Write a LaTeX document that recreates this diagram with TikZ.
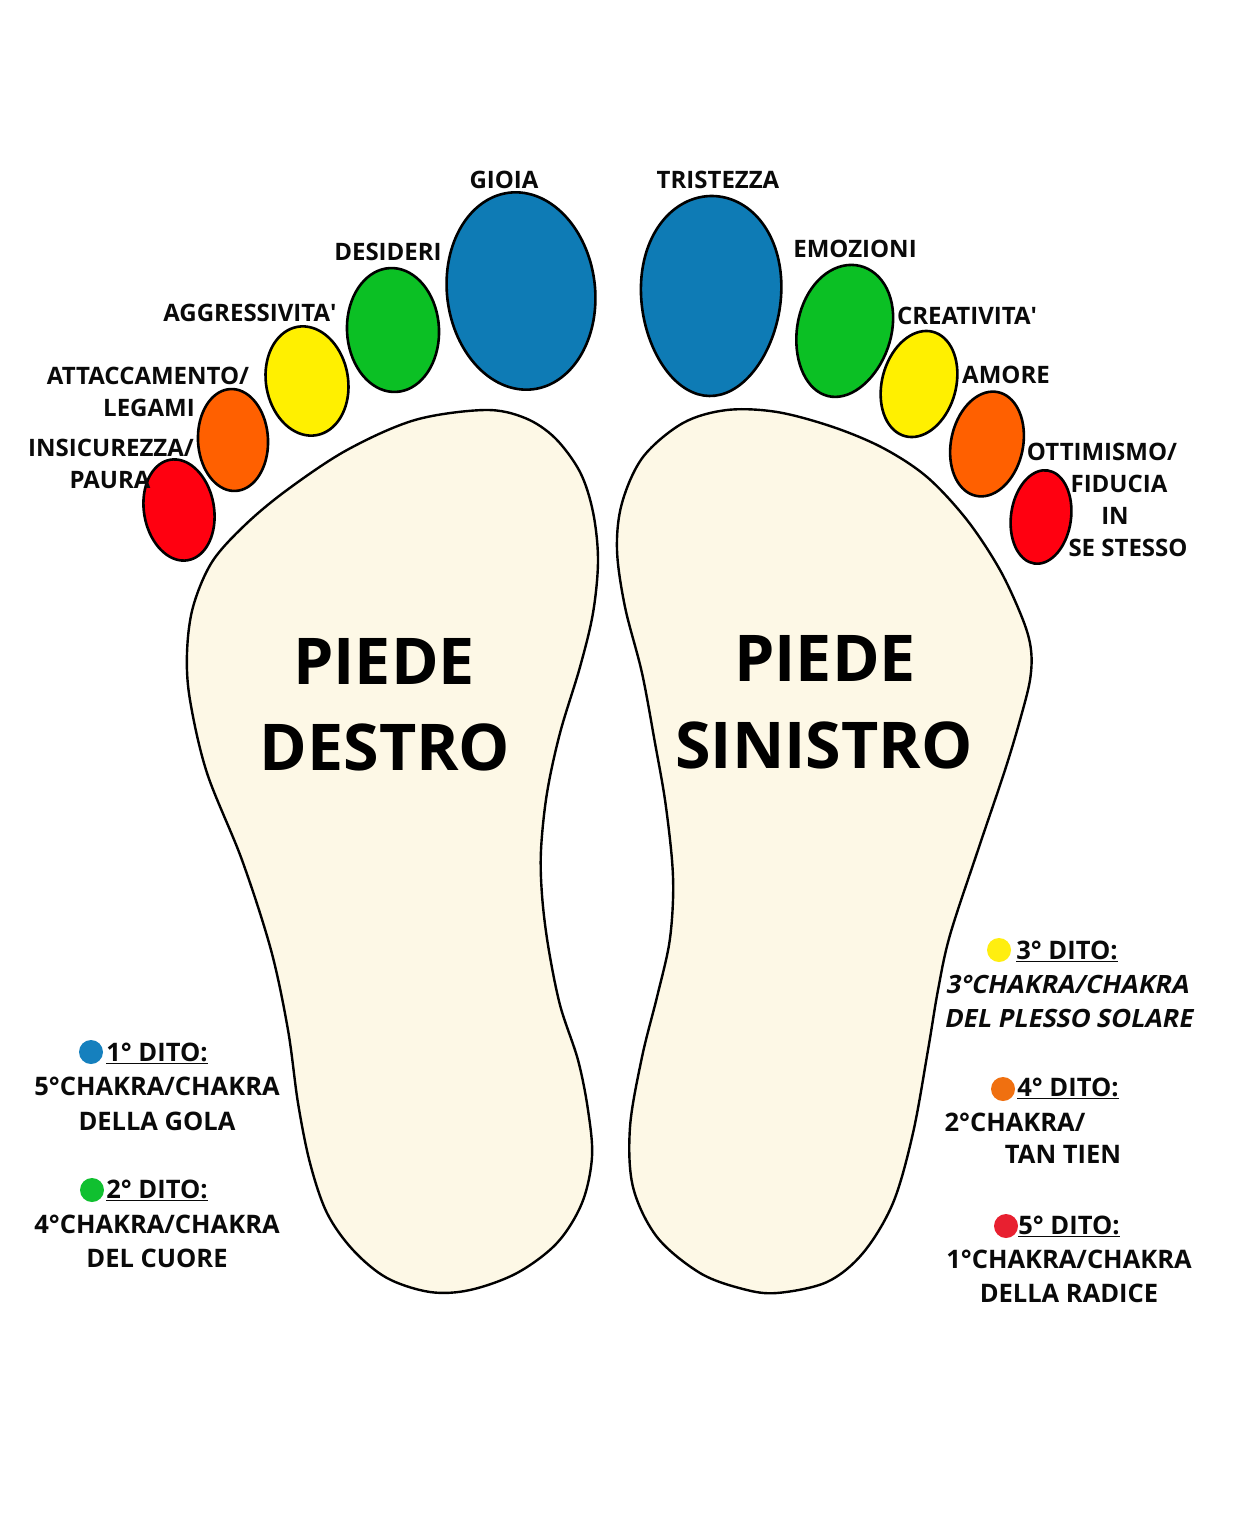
\documentclass[tikz,border=0pt]{standalone}
\usepackage{fontspec}
\setmainfont{Open Sans}
\newfontfamily\plainsans{Open Sans}
\newfontfamily\slantsans[BoldFeatures={FakeSlant=0.2}]{Open Sans}
\definecolor{toeblue}{HTML}{0E7BB5}
\definecolor{toegreen}{HTML}{0BC024}
\definecolor{toeyellow}{HTML}{FFF000}
\definecolor{toeorange}{HTML}{FF6000}
\definecolor{toered}{HTML}{FF0010}
\definecolor{cream}{HTML}{FDF8E6}
\definecolor{dotblue}{HTML}{1580BE}
\definecolor{dotgreen}{HTML}{10C030}
\definecolor{dotyellow}{HTML}{FFEE10}
\definecolor{dotorange}{HTML}{F07010}
\definecolor{dotred}{HTML}{E82030}
\definecolor{ink}{HTML}{0A0A0A}
\newcommand{\apos}{{\plainsans\bfseries\char39}}
% \toeshape{cx}{cy}{rx}{ry}{rotation}{egg}{colour}
\newcommand{\toeshape}[7]{%
 \draw[outline,fill=#7,shift={(#1,#2)},rotate=-#5] plot[smooth cycle,tension=0.6,domain=0:350,samples=36,variable=\t]
 ({#3*cos(\t)*(1+#6*sin(\t))},{-#4*sin(\t)});}
\tikzset{
 outline/.style={draw=black,line width=2.6pt,line join=round},
 footline/.style={draw=black,line width=2.4pt,line join=round,fill=cream},
 lab/.style={inner sep=0pt,anchor=base,text=ink,font=\fontsize{24}{24}\selectfont\bfseries,yshift=-8.5pt},
 leg/.style={inner sep=0pt,anchor=base,text=ink,font=\fontsize{25.5}{25.5}\selectfont\bfseries,yshift=-9pt},
 legi/.style={leg,font=\fontsize{25.2}{25.2}\slantsans\bfseries},
 big/.style={inner sep=0pt,anchor=base,text=black,font=\fontsize{64.5}{64.5}\selectfont\bfseries,yshift=-23.5pt},
 legdot/.style={circle,inner sep=0pt,minimum size=24pt}
}
\begin{document}
\begin{tikzpicture}[x=1pt,y=-1pt]
\useasboundingbox[fill=white] (0,0) rectangle (1240,1538);
% feet
\draw[footline] plot[smooth cycle,tension=0.55] coordinates {
 (485,410) (525,418) (555,438) (580,472) (593,512) (598,560) (593,613) (580,667) (560,733) (547,793) (541,850) (542,895) (548,945) (560,1005) (578,1060) (588,1110) (592,1157) (582,1203) (557,1243) (517,1273) (470,1290) (430,1292) (387,1278) (353,1250) (327,1213) (310,1163) (298,1103) (288,1030) (271,950) (242,860) (207,773) (190,700) (187,653) (193,607) (212,562) (245,525) (287,490) (347,450) (415,420)};
\draw[footline] plot[smooth cycle,tension=0.55] coordinates {
 (727,410) (683,423) (643,457) (622,503) (617,550) (625,607) (642,673) (655,743) (665,800) (672,860) (673,900) (669,945) (657,997) (642,1057) (630,1127) (633,1187) (657,1237) (700,1273) (743,1289) (777,1293) (827,1282) (863,1253) (893,1203) (913,1133) (928,1050) (938,990) (950,935) (978,850) (1005,770) (1020,720) (1030,680) (1031,650) (1023,620) (1000,570) (967,520) (927,477) (883,448) (833,427) (777,412)};
% left-hand toes
\toeshape{521}{291}{74}{99}{-7}{0}{toeblue}
\toeshape{393}{330}{46}{62}{-3}{0}{toegreen}
\toeshape{307}{381}{41}{55}{-10}{0}{toeyellow}
\toeshape{233}{440}{35}{51}{-3}{0}{toeorange}
\toeshape{179}{510}{35}{51}{-10}{0}{toered}
% right-hand toes
\toeshape{711}{296}{70}{100}{1}{0.08}{toeblue}
\toeshape{844}{331}{47}{67}{14}{0.05}{toegreen}
\toeshape{919}{384}{37}{54}{15}{0}{toeyellow}
\toeshape{987}{444}{36}{53}{12}{0}{toeorange}
\toeshape{1041}{517}{30}{47}{8}{0}{toered}
% toe labels
\node[lab] (gioia) at (504,180) {GIOIA};
\node[lab] (trist) at (718,180) {TRISTEZZA};
\node[lab] (desid) at (388,252) {DESIDERI};
\node[lab] (emoz) at (855,249) {EMOZIONI};
\node[lab] (aggr) at (250,313) {AGGRESSIVITA\apos};
\node[lab] (creat) at (967,316) {CREATIVITA\apos};
\node[lab] (attac) at (148,376) {ATTACCAMENTO/};
\node[lab] (legam) at (149,408) {LEGAMI};
\node[lab] (amore) at (1006,375) {AMORE};
\node[lab] (insic) at (111,448) {INSICUREZZA/};
\node[lab] (paura) at (110,480) {PAURA};
\node[lab] (ottim) at (1102,452) {OTTIMISMO/};
\node[lab] (fiduc) at (1119,484) {FIDUCIA};
\node[lab] (inw) at (1115,516) {IN};
\node[lab] (sest) at (1128,548) {SE STESSO};
% foot titles
\node[big] (pd1) at (384,661) {PIEDE};
\node[big] (pd2) at (385,747) {DESTRO};
\node[big] (ps1) at (825,658) {PIEDE};
\node[big] (ps2) at (824,745) {SINISTRO};
% legend left
\node[legdot,fill=dotblue] (d1) at (91,1052) {};
\node[leg] (t1) at (157,1052) {\underline{1° DITO:}};
\node[leg] (t1a) at (157,1086) {5°CHAKRA/CHAKRA};
\node[leg] (t1b) at (157,1121) {DELLA GOLA};
\node[legdot,fill=dotgreen] (d2) at (92,1190) {};
\node[leg] (t2) at (157,1189) {\underline{2° DITO:}};
\node[leg] (t2a) at (157,1224) {4°CHAKRA/CHAKRA};
\node[leg] (t2b) at (157,1258) {DEL CUORE};
% legend right
\node[legdot,fill=dotyellow] (d3) at (999,950) {};
\node[leg] (t3) at (1067,950) {\underline{3° DITO:}};
\node[legi] (t3a) at (1067,984) {3°CHAKRA/CHAKRA};
\node[legi] (t3b) at (1068,1018) {DEL PLESSO SOLARE};
\node[legdot,fill=dotorange] (d4) at (1003,1089) {};
\node[leg] (t4) at (1068,1087) {\underline{4° DITO:}};
\node[leg] (t4a) at (1015,1122) {2°CHAKRA/};
\node[leg] (t4b) at (1063,1154) {TAN TIEN};
\node[legdot,fill=dotred] (d5) at (1006,1226) {};
\node[leg] (t5) at (1069,1225) {\underline{5° DITO:}};
\node[leg] (t5a) at (1069,1259) {1°CHAKRA/CHAKRA};
\node[leg] (t5b) at (1069,1293) {DELLA RADICE};
\end{tikzpicture}
\end{document}
